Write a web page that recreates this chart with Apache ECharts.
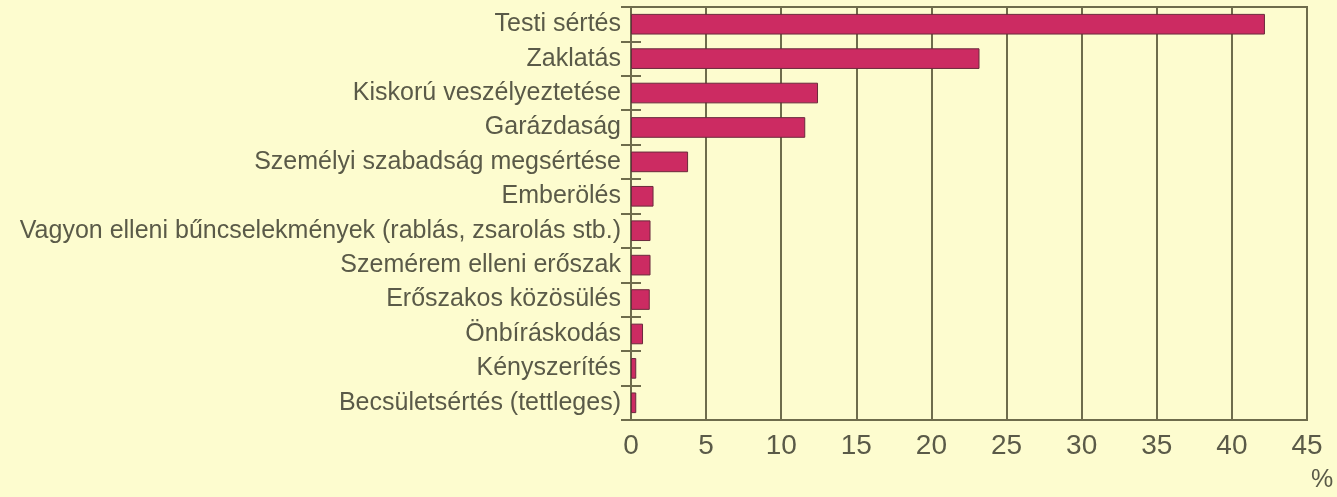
<!DOCTYPE html>
<html>
<head>
<meta charset="utf-8">
<script src="https://cdn.jsdelivr.net/npm/echarts@6/dist/echarts.min.js"></script>
<style>
  html, body { margin: 0; padding: 0; background: #fdfccf; }
  #chart { width: 1337px; height: 497px; }
</style>
</head>
<body>
<div id="chart"></div>
<script>
// kategóriák alulról felfelé (ECharts kategória tengely alulról indul)
const categories = [
  'Becsületsértés (tettleges)',
  'Kényszerítés',
  'Önbíráskodás',
  'Erőszakos közösülés',
  'Szemérem elleni erőszak',
  'Vagyon elleni bűncselekmények (rablás, zsarolás stb.)',
  'Emberölés',
  'Személyi szabadság megsértése',
  'Garázdaság',
  'Kiskorú veszélyeztetése',
  'Zaklatás',
  'Testi sértés'
];
const values = [0.35, 0.35, 0.8, 1.25, 1.3, 1.3, 1.5, 3.8, 11.6, 12.45, 23.2, 42.2];
const xTicks = [0, 5, 10, 15, 20, 25, 30, 35, 40, 45];

const lineColor = '#6e6c4c';
const textColor = '#5a5a48';

const chart = echarts.init(document.getElementById('chart'));
chart.setOption({
  backgroundColor: '#fdfccf',
  animation: false,
  grid: {
    left: 631, right: 30, top: 7, bottom: 77,
    outerBoundsMode: 'none',
    show: true, borderColor: lineColor, borderWidth: 2
  },
  xAxis: {
    type: 'value',
    min: xTicks[0],
    max: xTicks[xTicks.length - 1],
    interval: 5,
    name: '%',
    nameLocation: 'end',
    nameGap: 4,
    nameTextStyle: {
      color: textColor, fontSize: 25, fontFamily: 'Liberation Sans',
      verticalAlign: 'top', padding: [48, 0, 0, 0]
    },
    axisLine: { show: true, lineStyle: { color: lineColor, width: 2 } },
    axisTick: { show: false },
    splitLine: { show: true, lineStyle: { color: lineColor, width: 2 } },
    axisLabel: {
      color: textColor, fontSize: 28, fontFamily: 'Liberation Sans', margin: 12
    }
  },
  yAxis: [
    {
      type: 'category',
      data: categories,
      axisLine: { show: true, lineStyle: { color: lineColor, width: 2 } },
      axisTick: { show: true, length: 10, lineStyle: { color: lineColor, width: 2 } },
      axisLabel: {
        color: textColor, fontSize: 25, fontFamily: 'Liberation Sans', margin: 10
      }
    },
    {
      type: 'category',
      position: 'left',
      data: categories,
      axisLine: { show: false },
      axisTick: { show: true, inside: true, length: 10, lineStyle: { color: lineColor, width: 2 } },
      axisLabel: { show: false }
    }
  ],
  series: [{
    type: 'bar',
    data: values,
    barWidth: '60%',
    itemStyle: { color: '#cc2b62', borderColor: '#6a2a3c', borderWidth: 1 }
  }]
});
</script>
</body>
</html>
